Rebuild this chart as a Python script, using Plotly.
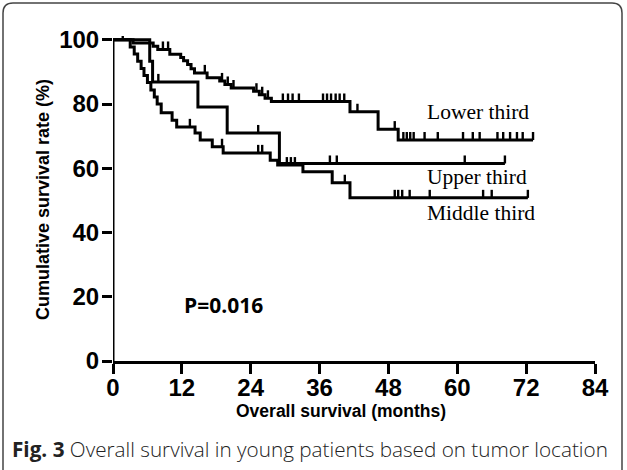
import numpy as np
import plotly.graph_objects as go

# ---------------- data ----------------
lower_t = [0, 3.5, 7.0, 7.8, 9.9, 11.8, 12.3, 13.0, 13.6, 14.2, 16.4, 18.6, 19.5, 20.6, 24.5, 25.5, 26.5, 27.6, 41.3, 46.2, 49.7]
lower_s = [100, 99.0, 98.0, 97.0, 95.5, 94.5, 93.5, 92.3, 91.0, 89.7, 88.2, 87.2, 86.1, 85.0, 84.0, 82.9, 81.8, 80.8, 77.6, 72.2, 68.8]
lower_end = 73.2
lower_censor = [1.7, 8.7, 9.6, 16.0, 19.0, 20.0, 21.0, 25.0, 26.0, 27.0, 29.6, 30.5, 31.3, 32.4,
                36.6, 37.3, 38.0, 38.8, 39.5, 40.3, 42.6, 49.1, 50.6, 51.2, 51.8, 52.4, 54.3,
                56.6, 61.0, 62.7, 63.9, 67.0, 68.0, 69.2, 70.4, 71.4, 73.2]

middle_t = [0, 3.0, 3.7, 4.3, 4.9, 5.4, 6.0, 6.6, 7.2, 7.7, 8.4, 10.3, 11.1, 14.3, 15.2, 17.3, 19.2, 27.4, 28.7, 33.1, 38.2, 41.3]
middle_s = [100, 97.8, 95.6, 93.3, 91.1, 88.9, 86.7, 84.4, 82.2, 80.0, 77.3, 75.0, 72.9, 71.0, 68.8, 66.7, 64.8, 62.5, 61.0, 58.9, 55.5, 50.8]
middle_end = 72.3
middle_censor = [13.4, 19.0, 25.3, 26.0, 30.3, 31.0, 31.7, 40.4, 49.1, 49.7, 50.4, 51.7, 55.2, 64.5, 66.0, 72.3]

upper_t = [0, 6.4, 6.9, 14.8, 19.9, 29.0]
upper_s = [100, 93.3, 86.9, 79.1, 71.0, 61.5]
upper_end = 68.3
upper_censor = [7.9, 25.3, 37.8, 39.0, 61.3, 68.3]

groups = ["Lower third", "Upper third", "Middle third"]
label_x = [54.4, 54.4, 54.4]
label_y = [77.6, 57.3, 46.1]

x_ticks = [0, 12, 24, 36, 48, 60, 72, 84]
y_ticks = [0, 20, 40, 60, 80, 100]

x_title = "Overall survival (months)"
y_title = "Cumulative survival rate (%)"
p_text = "P=0.016"
caption_bold = "Fig. 3"
caption_rest = " Overall survival in young patients based on tumor location"

# ---------------- figure ----------------
W, H = 627, 470
L, R, T, B = 113, 32, 36, 109
PW, PH = W - L - R, H - T - B

fig = go.Figure()


def add_curve(t, s, end, cens):
    xs = list(t) + [end]
    ys = list(s) + [s[-1]]
    fig.add_trace(go.Scatter(x=xs, y=ys, mode="lines", line=dict(color="black", width=3, shape="hv"),
                             hoverinfo="skip", showlegend=False))
    ta = np.array(t)
    sa = np.array(s)
    idx = np.searchsorted(ta, np.array(cens), side="right") - 1
    cy = sa[idx]
    fig.add_trace(go.Scatter(x=cens, y=cy, mode="markers", marker=dict(size=1, color="black", opacity=0),
                             error_y=dict(type="data", symmetric=False, array=[2.5] * len(cens),
                                          arrayminus=[0] * len(cens), width=0, thickness=2.4, color="black"),
                             hoverinfo="skip", showlegend=False))


add_curve(lower_t, lower_s, lower_end, lower_censor)
add_curve(middle_t, middle_s, middle_end, middle_censor)
add_curve(upper_t, upper_s, upper_end, upper_censor)

annotations = []
for g, gx, gy in zip(groups, label_x, label_y):
    annotations.append(dict(x=gx, y=gy, xref="x", yref="y", text=g, showarrow=False, xanchor="left",
                            yanchor="middle", font=dict(family="Liberation Serif", size=21.5, color="black")))
annotations.append(dict(x=12.0, y=17.4, xref="x", yref="y", text="<b>" + p_text + "</b>", showarrow=False,
                        xanchor="left", yanchor="middle", font=dict(family="Open Sans", size=21, color="black")))


def pxx(px):
    return (px - L) / PW


def pyy(py):
    return (H - B - py) / PH


annotations.append(dict(x=pxx(341), y=pyy(411), xref="paper", yref="paper", text="<b>" + x_title + "</b>",
                        showarrow=False, xanchor="center", yanchor="middle",
                        font=dict(family="Liberation Sans", size=17.5, color="black")))
annotations.append(dict(x=pxx(43), y=pyy(200), xref="paper", yref="paper", text="<b>" + y_title + "</b>",
                        showarrow=False, xanchor="center", yanchor="middle", textangle=-90,
                        font=dict(family="Liberation Sans", size=18, color="black")))
annotations.append(dict(x=pxx(10), y=pyy(449), xref="paper", yref="paper",
                        text="<b>" + caption_bold + "</b>" + caption_rest,
                        showarrow=False, xanchor="left", yanchor="middle",
                        font=dict(family="Open Sans", size=20.7, color="#222222", weight=300)))

# rounded frame
x0, x1, y0, y1, rr = 3, 622, 3, 495, 10
rx, ry = rr / PW, rr / PH
fx0, fx1, fy0, fy1 = pxx(x0), pxx(x1), pyy(y0), pyy(y1)
path = (f"M {fx0 + rx},{fy0} L {fx1 - rx},{fy0} Q {fx1},{fy0} {fx1},{fy0 - ry} "
        f"L {fx1},{fy1} L {fx0},{fy1} L {fx0},{fy0 - ry} Q {fx0},{fy0} {fx0 + rx},{fy0} Z")

shapes = [
    dict(type="path", xref="paper", yref="paper", path=path, line=dict(color="#444444", width=1.5),
         fillcolor="rgba(0,0,0,0)", layer="below"),
    dict(type="line", xref="x", yref="y", x0=0, x1=0, y0=0, y1=100, line=dict(color="black", width=3)),
]

tickfont = dict(family="Liberation Sans", size=24, color="black", weight="bold")
fig.update_layout(
    width=W, height=H,
    margin=dict(l=L, r=R, t=T, b=B, pad=0),
    paper_bgcolor="white", plot_bgcolor="white",
    showlegend=False,
    annotations=annotations,
    shapes=shapes,
    xaxis=dict(range=[0, 84], tickvals=x_ticks, ticktext=[str(v) for v in x_ticks],
               showgrid=False, zeroline=False, showline=True, linecolor="black", linewidth=3,
               ticks="outside", ticklen=10, tickwidth=3, tickcolor="black", tickfont=tickfont,
               ticklabelstandoff=-7),
    yaxis=dict(range=[0, 101.2], tickvals=y_ticks, ticktext=[str(v) for v in y_ticks],
               showgrid=False, zeroline=False, showline=False,
               ticks="outside", ticklen=10, tickwidth=3, tickcolor="black", tickfont=tickfont,
               ticklabelstandoff=-2),
)

fig.write_html("out.html", config={"displayModeBar": False},
               post_script="document.body.style.margin='0';")
